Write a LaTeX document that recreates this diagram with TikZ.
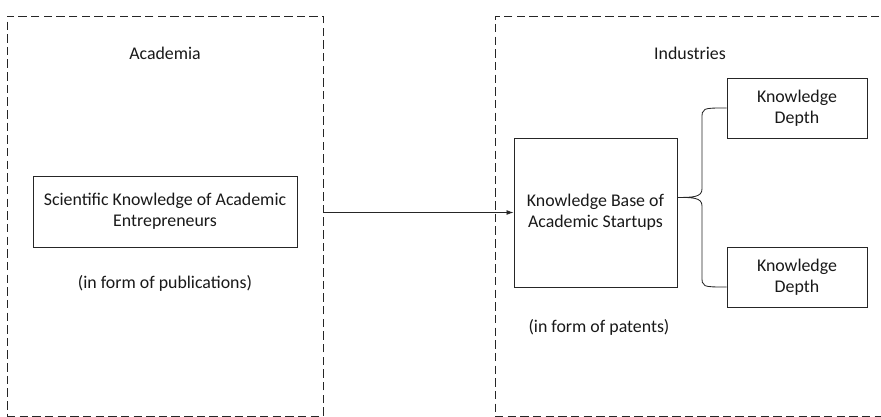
\documentclass[tikz,border=0pt]{standalone}
\usepackage{fontspec}
\setmainfont{Carlito}
\usetikzlibrary{arrows.meta}

\begin{document}
\begin{tikzpicture}[line width=.6pt, color=black!85,
    every node/.style={font=\fontsize{12.7}{15}\selectfont, align=center, text=black!90},
    zone/.style={draw, dash pattern=on 6pt off 3pt, minimum width=#1,
      minimum height=10cm, inner sep=0pt},
    kbox/.style={draw, inner sep=2pt}]

        \useasboundingbox (0,0) rectangle (22.025,10.425);

        % the two dashed areas
        \node[zone=7.9cm]   (academia) at (4.125,5.025)   {};
        \node[zone=9.925cm] (industry) at (17.3375,5.025) {};
        \node (academiatitle) at (4.125,9.1)  {Academia};
        \node (industrytitle) at (17.25,9.1)  {Industries};

        \begin{scope}[every node/.append style={kbox}]
          \node[minimum width=6.6cm, minimum height=1.775cm]   (sci)    at (4.125,5.1375)   {Scientific Knowledge of Academic\\Entrepreneurs};
          \node[minimum width=4.075cm, minimum height=3.725cm] (kbase)  at (14.8875,5.1125) {Knowledge Base of\\Academic Startups};
          \node[minimum width=3.5cm, minimum height=1.5cm]     (depth1) at (19.925,7.725)   {Knowledge\\Depth};
          \node[minimum width=3.5cm, minimum height=1.5cm]     (depth2) at (19.925,3.5)     {Knowledge\\Depth};
        \end{scope}

        \node (pubs)    at (4.125,3.35)  {(in form of publications)};
        \node (patents) at (14.975,2.25) {(in form of patents)};

        % arrow and brace
        \draw[-{Latex[length=5pt,width=3.5pt]}] (kbase.west -| academia.east) -- (kbase.west);

        \coordinate (tip) at ([yshift=.375cm]kbase.east);
        \coordinate (low) at ([yshift=-.25cm]depth2.west);
        \draw (depth1.west) .. controls (17.55,7.725) .. (17.55,7.45) -- (17.55,5.7)
              .. controls (17.55,5.49) and (17.3,5.49) .. (tip)
              .. controls (17.3,5.49) and (17.55,5.49) .. (17.55,5.28) -- (17.55,3.525)
              .. controls (17.55,3.25) .. (low);

      \end{tikzpicture}
\end{document}
